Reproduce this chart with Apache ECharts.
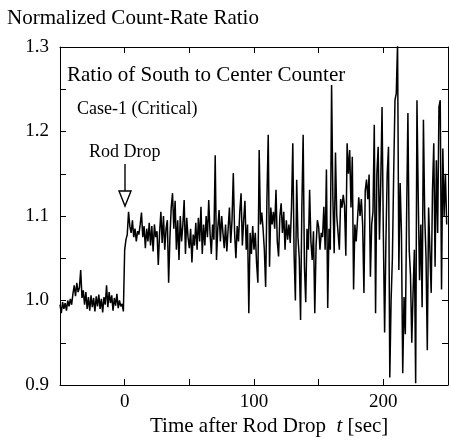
<!DOCTYPE html>
<html>
<head>
<meta charset="utf-8">
<script src="https://cdn.jsdelivr.net/npm/echarts@6/dist/echarts.min.js"></script>
<style>
html,body{margin:0;padding:0;background:#fff;}
#chart{width:451px;height:440px;}
</style>
</head>
<body>
<div id="chart"></div>
<script>
// time of first sample [sec], samples are 1 s apart
const startTime = -50;
// normalized count-rate ratio (south / center), one value per second from t=-50 to t=249
const ratioValues = [
  0.995, 0.985, 0.998, 0.990, 0.997, 0.988, 1.000, 0.993, 1.002, 0.995,
  1.008, 1.018, 1.005, 1.021, 1.010, 1.015, 1.036, 1.003, 1.012, 0.995,
  1.010, 0.990, 1.004, 0.988, 1.006, 0.992, 1.003, 0.987, 1.005, 0.993,
  1.007, 0.990, 1.002, 0.986, 1.004, 0.995, 1.018, 0.992, 1.010, 0.997,
  1.006, 0.988, 1.003, 0.994, 1.008, 0.991, 1.000, 0.993, 0.996, 0.987,
  1.060, 1.072, 1.078, 1.105, 1.088, 1.080, 1.095, 1.075, 1.085, 1.070,
  1.082, 1.078, 1.090, 1.104, 1.075, 1.088, 1.062, 1.085, 1.070, 1.092,
  1.065, 1.088, 1.058, 1.090, 1.075, 1.082, 1.042, 1.080, 1.105, 1.068,
  1.100, 1.060, 1.085, 1.095, 1.021, 1.075, 1.110, 1.127, 1.085, 1.118,
  1.060, 1.095, 1.048, 1.100, 1.070, 1.090, 1.119, 1.055, 1.098, 1.075,
  1.062, 1.085, 1.045, 1.078, 1.065, 1.092, 1.060, 1.098, 1.070, 1.111,
  1.055, 1.090, 1.065, 1.100, 1.075, 1.119, 1.080, 1.055, 1.090, 1.072,
  1.172, 1.048, 1.085, 1.107, 1.070, 1.100, 1.080, 1.062, 1.090, 1.058,
  1.085, 1.110, 1.068, 1.095, 1.151, 1.080, 1.050, 1.088, 1.070, 1.105,
  1.127, 1.065, 1.095, 1.118, 1.060, 1.090, 0.985, 1.080, 1.055, 1.088,
  1.060, 1.080, 1.044, 1.021, 1.178, 1.090, 1.104, 1.085, 1.060, 1.016,
  1.120, 1.196, 1.040, 1.110, 1.090, 1.105, 1.085, 1.131, 1.070, 1.052,
  1.100, 1.115, 1.080, 1.105, 1.060, 1.095, 1.072, 1.090, 1.068, 1.110,
  1.186, 1.055, 1.000, 1.143, 1.075, 1.050, 0.977, 1.110, 1.196, 1.040,
  0.998, 1.085, 1.060, 1.131, 1.070, 1.048, 1.082, 0.985, 1.065, 1.095,
  1.087, 1.060, 1.080, 1.075, 1.111, 1.060, 1.155, 0.991, 1.085, 1.060,
  1.255, 1.120, 1.056, 1.175, 1.100, 1.080, 1.060, 1.120, 1.110, 1.125,
  1.112, 1.053, 1.186, 1.150, 1.178, 1.110, 1.170, 1.013, 1.090, 1.070,
  1.095, 1.122, 1.100, 1.120, 1.090, 1.009, 1.130, 1.143, 1.120, 1.149,
  1.028, 1.090, 1.105, 1.208, 0.985, 1.150, 1.182, 1.072, 1.140, 1.229,
  1.080, 0.962, 1.070, 1.150, 1.182, 0.909, 1.000, 1.050, 1.150, 1.237,
  1.245, 1.305, 1.036, 1.139, 1.080, 0.914, 1.004, 0.960, 1.100, 1.222,
  1.060, 1.030, 0.950, 1.010, 1.060, 0.902, 1.237, 1.120, 1.024, 1.090,
  0.992, 1.214, 1.100, 1.052, 0.941, 1.110, 1.060, 1.009, 1.130, 1.186,
  1.040, 1.166, 1.080, 1.229, 1.237, 1.013, 1.180, 1.100, 1.150, 1.090
];
const xTickLabels = [0, 100, 200];
const yTickLabels = [0.9, 1.0, 1.1, 1.2, 1.3];

const FONT = '"Liberation Serif", "DejaVu Serif", serif';
const seriesData = ratioValues.map((v, i) => [startTime + i, v]);

const chart = echarts.init(document.getElementById('chart'), null, {renderer: 'canvas'});
const axisLine = {show: true, onZero: false, lineStyle: {color: '#000', width: 1}};
const tickStyle = {show: true, inside: true, length: 6, lineStyle: {color: '#000', width: 1}};

chart.setOption({
  animation: false,
  backgroundColor: '#fff',
  grid: {left: 60, top: 47, width: 391, height: 338, containLabel: false},
  xAxis: [
    {
      type: 'value', min: -50, max: 250, interval: 50, position: 'bottom',
      axisLine: axisLine, axisTick: tickStyle, splitLine: {show: false},
      axisLabel: {
        show: true, margin: 8, color: '#000', fontSize: 19, fontFamily: FONT,
        showMinLabel: true, showMaxLabel: true,
        formatter: v => xTickLabels.includes(Math.round(v)) ? String(Math.round(v)) : ''
      }
    },
    {
      type: 'value', min: -50, max: 250, interval: 50, position: 'top',
      axisLine: axisLine, axisTick: tickStyle, splitLine: {show: false},
      axisLabel: {show: false}
    }
  ],
  yAxis: [
    {
      type: 'value', min: 0.9, max: 1.3, interval: 0.05, position: 'left',
      axisLine: axisLine, axisTick: tickStyle, splitLine: {show: false},
      axisLabel: {
        show: true, margin: 11, color: '#000', fontSize: 19, fontFamily: FONT,
        formatter: v => {
          const m = yTickLabels.find(l => Math.abs(l - v) < 1e-6);
          return m !== undefined ? m.toFixed(1) : '';
        }
      }
    },
    {
      type: 'value', min: 0.9, max: 1.3, interval: 0.05, position: 'right',
      axisLine: axisLine, axisTick: tickStyle, splitLine: {show: false},
      axisLabel: {show: false}
    }
  ],
  series: [{
    type: 'line',
    data: seriesData,
    showSymbol: false,
    symbol: 'none',
    clip: true,
    lineStyle: {color: '#000', width: 1.5},
    xAxisIndex: 0, yAxisIndex: 0
  }],
  graphic: [
    {type: 'text', x: 7, y: 18, style: {text: 'Normalized Count-Rate Ratio', font: '21px ' + FONT, fill: '#000', verticalAlign: 'middle'}},
    {type: 'text', x: 67, y: 75, style: {text: 'Ratio of South to Center Counter', font: '21px ' + FONT, fill: '#000', verticalAlign: 'middle'}},
    {type: 'text', x: 77, y: 109, style: {text: 'Case-1 (Critical)', font: '18px ' + FONT, fill: '#000', verticalAlign: 'middle'}},
    {type: 'text', x: 89, y: 152, style: {text: 'Rod Drop', font: '18px ' + FONT, fill: '#000', verticalAlign: 'middle'}},
    {type: 'line', shape: {x1: 125, y1: 164, x2: 125, y2: 192}, style: {stroke: '#000', lineWidth: 1.4}},
    {type: 'polygon', shape: {points: [[119, 191], [131, 191], [125, 206]]}, style: {fill: '#fff', stroke: '#000', lineWidth: 1.4}, z: 10},
    {
      type: 'text', x: 150, y: 426,
      style: {
        text: '{a|Time after Rod Drop  }{b|t}{a| [sec]}',
        verticalAlign: 'middle',
        rich: {
          a: {fontSize: 21, fontFamily: FONT, fill: '#000'},
          b: {fontSize: 21, fontFamily: FONT, fontStyle: 'italic', fill: '#000'}
        }
      }
    }
  ]
});
</script>
</body>
</html>
